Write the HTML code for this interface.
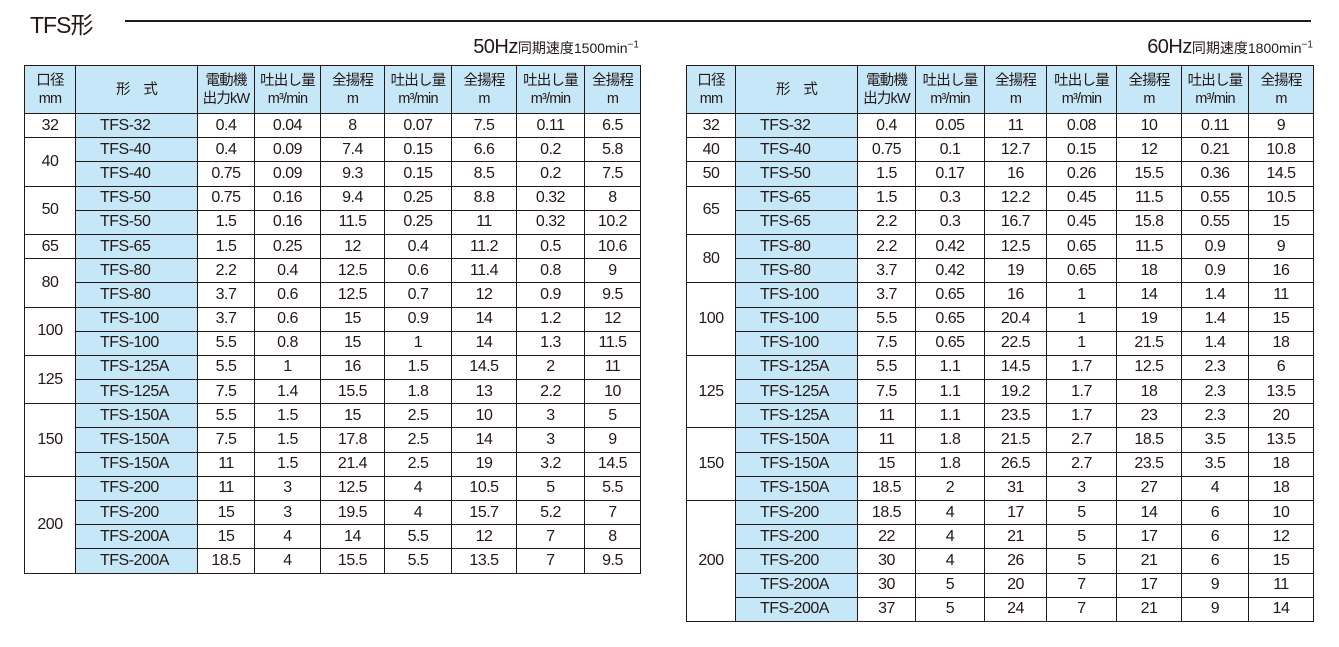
<!DOCTYPE html>
<html><head><meta charset="utf-8"><style>
body{margin:0;width:1339px;height:647px;background:#fff;position:relative;font-family:"Liberation Sans","Noto Sans CJK JP",sans-serif;color:#231815;overflow:hidden}
.title{position:absolute;left:30px;top:6px;font-size:23px;letter-spacing:-1px}
.line{position:absolute;left:125px;top:20px;width:1186px;height:1.5px;background:#231815}
.sub{position:absolute;top:36px;font-size:14px;text-align:right}
.sub b{font-weight:normal;font-size:20px;letter-spacing:-0.5px}
.sub sup{font-size:10px}
table{position:absolute;top:65px;border-collapse:collapse;table-layout:fixed;font-size:16px;letter-spacing:-0.5px}
td,th{border:1px solid #231815;text-align:center;padding:0;white-space:nowrap;overflow:hidden;box-sizing:border-box}
th{background:#c6e7f8;font-weight:normal;font-size:14.5px;line-height:18px;height:48px;letter-spacing:-0.8px}
td.m{background:#c6e7f8;text-align:left;padding-left:24px}
td.d{border-right:1px dashed #231815}
th.d{border-right:1px dashed #231815}
table td{height:24.2px;line-height:22px}
</style></head><body>
<div class="title">TFS形</div><div class="line"></div>
<div class="sub" style="right:700px"><b>50Hz</b>同期速度1500min<sup>−1</sup></div>
<div class="sub" style="right:26px"><b>60Hz</b>同期速度1800min<sup>−1</sup></div>

<table style="left:24px;width:616px">
<colgroup><col style="width:51px"><col style="width:122px"><col style="width:57px"><col style="width:66px"><col style="width:64px"><col style="width:67px"><col style="width:65px"><col style="width:68px"><col style="width:56px"></colgroup>
<tr><th>口径<br>mm</th><th>形　式</th><th>電動機<br>出力kW</th><th class="d">吐出し量<br>m³/min</th><th>全揚程<br>m</th><th class="d">吐出し量<br>m³/min</th><th>全揚程<br>m</th><th class="d">吐出し量<br>m³/min</th><th>全揚程<br>m</th></tr>
<tr><td>32</td><td class="m">TFS-32</td><td>0.4</td><td class="d">0.04</td><td>8</td><td class="d">0.07</td><td>7.5</td><td class="d">0.11</td><td>6.5</td></tr>
<tr><td rowspan="2">40</td><td class="m">TFS-40</td><td>0.4</td><td class="d">0.09</td><td>7.4</td><td class="d">0.15</td><td>6.6</td><td class="d">0.2</td><td>5.8</td></tr>
<tr><td class="m">TFS-40</td><td>0.75</td><td class="d">0.09</td><td>9.3</td><td class="d">0.15</td><td>8.5</td><td class="d">0.2</td><td>7.5</td></tr>
<tr><td rowspan="2">50</td><td class="m">TFS-50</td><td>0.75</td><td class="d">0.16</td><td>9.4</td><td class="d">0.25</td><td>8.8</td><td class="d">0.32</td><td>8</td></tr>
<tr><td class="m">TFS-50</td><td>1.5</td><td class="d">0.16</td><td>11.5</td><td class="d">0.25</td><td>11</td><td class="d">0.32</td><td>10.2</td></tr>
<tr><td>65</td><td class="m">TFS-65</td><td>1.5</td><td class="d">0.25</td><td>12</td><td class="d">0.4</td><td>11.2</td><td class="d">0.5</td><td>10.6</td></tr>
<tr><td rowspan="2">80</td><td class="m">TFS-80</td><td>2.2</td><td class="d">0.4</td><td>12.5</td><td class="d">0.6</td><td>11.4</td><td class="d">0.8</td><td>9</td></tr>
<tr><td class="m">TFS-80</td><td>3.7</td><td class="d">0.6</td><td>12.5</td><td class="d">0.7</td><td>12</td><td class="d">0.9</td><td>9.5</td></tr>
<tr><td rowspan="2">100</td><td class="m">TFS-100</td><td>3.7</td><td class="d">0.6</td><td>15</td><td class="d">0.9</td><td>14</td><td class="d">1.2</td><td>12</td></tr>
<tr><td class="m">TFS-100</td><td>5.5</td><td class="d">0.8</td><td>15</td><td class="d">1</td><td>14</td><td class="d">1.3</td><td>11.5</td></tr>
<tr><td rowspan="2">125</td><td class="m">TFS-125A</td><td>5.5</td><td class="d">1</td><td>16</td><td class="d">1.5</td><td>14.5</td><td class="d">2</td><td>11</td></tr>
<tr><td class="m">TFS-125A</td><td>7.5</td><td class="d">1.4</td><td>15.5</td><td class="d">1.8</td><td>13</td><td class="d">2.2</td><td>10</td></tr>
<tr><td rowspan="3">150</td><td class="m">TFS-150A</td><td>5.5</td><td class="d">1.5</td><td>15</td><td class="d">2.5</td><td>10</td><td class="d">3</td><td>5</td></tr>
<tr><td class="m">TFS-150A</td><td>7.5</td><td class="d">1.5</td><td>17.8</td><td class="d">2.5</td><td>14</td><td class="d">3</td><td>9</td></tr>
<tr><td class="m">TFS-150A</td><td>11</td><td class="d">1.5</td><td>21.4</td><td class="d">2.5</td><td>19</td><td class="d">3.2</td><td>14.5</td></tr>
<tr><td rowspan="4">200</td><td class="m">TFS-200</td><td>11</td><td class="d">3</td><td>12.5</td><td class="d">4</td><td>10.5</td><td class="d">5</td><td>5.5</td></tr>
<tr><td class="m">TFS-200</td><td>15</td><td class="d">3</td><td>19.5</td><td class="d">4</td><td>15.7</td><td class="d">5.2</td><td>7</td></tr>
<tr><td class="m">TFS-200A</td><td>15</td><td class="d">4</td><td>14</td><td class="d">5.5</td><td>12</td><td class="d">7</td><td>8</td></tr>
<tr><td class="m">TFS-200A</td><td>18.5</td><td class="d">4</td><td>15.5</td><td class="d">5.5</td><td>13.5</td><td class="d">7</td><td>9.5</td></tr>
</table>

<table style="left:686px;width:627px">
<colgroup><col style="width:49px"><col style="width:122px"><col style="width:58px"><col style="width:69px"><col style="width:62px"><col style="width:70px"><col style="width:65px"><col style="width:67px"><col style="width:65px"></colgroup>
<tr><th>口径<br>mm</th><th>形　式</th><th>電動機<br>出力kW</th><th class="d">吐出し量<br>m³/min</th><th>全揚程<br>m</th><th class="d">吐出し量<br>m³/min</th><th>全揚程<br>m</th><th class="d">吐出し量<br>m³/min</th><th>全揚程<br>m</th></tr>
<tr><td>32</td><td class="m">TFS-32</td><td>0.4</td><td class="d">0.05</td><td>11</td><td class="d">0.08</td><td>10</td><td class="d">0.11</td><td>9</td></tr>
<tr><td>40</td><td class="m">TFS-40</td><td>0.75</td><td class="d">0.1</td><td>12.7</td><td class="d">0.15</td><td>12</td><td class="d">0.21</td><td>10.8</td></tr>
<tr><td>50</td><td class="m">TFS-50</td><td>1.5</td><td class="d">0.17</td><td>16</td><td class="d">0.26</td><td>15.5</td><td class="d">0.36</td><td>14.5</td></tr>
<tr><td rowspan="2">65</td><td class="m">TFS-65</td><td>1.5</td><td class="d">0.3</td><td>12.2</td><td class="d">0.45</td><td>11.5</td><td class="d">0.55</td><td>10.5</td></tr>
<tr><td class="m">TFS-65</td><td>2.2</td><td class="d">0.3</td><td>16.7</td><td class="d">0.45</td><td>15.8</td><td class="d">0.55</td><td>15</td></tr>
<tr><td rowspan="2">80</td><td class="m">TFS-80</td><td>2.2</td><td class="d">0.42</td><td>12.5</td><td class="d">0.65</td><td>11.5</td><td class="d">0.9</td><td>9</td></tr>
<tr><td class="m">TFS-80</td><td>3.7</td><td class="d">0.42</td><td>19</td><td class="d">0.65</td><td>18</td><td class="d">0.9</td><td>16</td></tr>
<tr><td rowspan="3">100</td><td class="m">TFS-100</td><td>3.7</td><td class="d">0.65</td><td>16</td><td class="d">1</td><td>14</td><td class="d">1.4</td><td>11</td></tr>
<tr><td class="m">TFS-100</td><td>5.5</td><td class="d">0.65</td><td>20.4</td><td class="d">1</td><td>19</td><td class="d">1.4</td><td>15</td></tr>
<tr><td class="m">TFS-100</td><td>7.5</td><td class="d">0.65</td><td>22.5</td><td class="d">1</td><td>21.5</td><td class="d">1.4</td><td>18</td></tr>
<tr><td rowspan="3">125</td><td class="m">TFS-125A</td><td>5.5</td><td class="d">1.1</td><td>14.5</td><td class="d">1.7</td><td>12.5</td><td class="d">2.3</td><td>6</td></tr>
<tr><td class="m">TFS-125A</td><td>7.5</td><td class="d">1.1</td><td>19.2</td><td class="d">1.7</td><td>18</td><td class="d">2.3</td><td>13.5</td></tr>
<tr><td class="m">TFS-125A</td><td>11</td><td class="d">1.1</td><td>23.5</td><td class="d">1.7</td><td>23</td><td class="d">2.3</td><td>20</td></tr>
<tr><td rowspan="3">150</td><td class="m">TFS-150A</td><td>11</td><td class="d">1.8</td><td>21.5</td><td class="d">2.7</td><td>18.5</td><td class="d">3.5</td><td>13.5</td></tr>
<tr><td class="m">TFS-150A</td><td>15</td><td class="d">1.8</td><td>26.5</td><td class="d">2.7</td><td>23.5</td><td class="d">3.5</td><td>18</td></tr>
<tr><td class="m">TFS-150A</td><td>18.5</td><td class="d">2</td><td>31</td><td class="d">3</td><td>27</td><td class="d">4</td><td>18</td></tr>
<tr><td rowspan="5">200</td><td class="m">TFS-200</td><td>18.5</td><td class="d">4</td><td>17</td><td class="d">5</td><td>14</td><td class="d">6</td><td>10</td></tr>
<tr><td class="m">TFS-200</td><td>22</td><td class="d">4</td><td>21</td><td class="d">5</td><td>17</td><td class="d">6</td><td>12</td></tr>
<tr><td class="m">TFS-200</td><td>30</td><td class="d">4</td><td>26</td><td class="d">5</td><td>21</td><td class="d">6</td><td>15</td></tr>
<tr><td class="m">TFS-200A</td><td>30</td><td class="d">5</td><td>20</td><td class="d">7</td><td>17</td><td class="d">9</td><td>11</td></tr>
<tr><td class="m">TFS-200A</td><td>37</td><td class="d">5</td><td>24</td><td class="d">7</td><td>21</td><td class="d">9</td><td>14</td></tr>
</table>
</body></html>
